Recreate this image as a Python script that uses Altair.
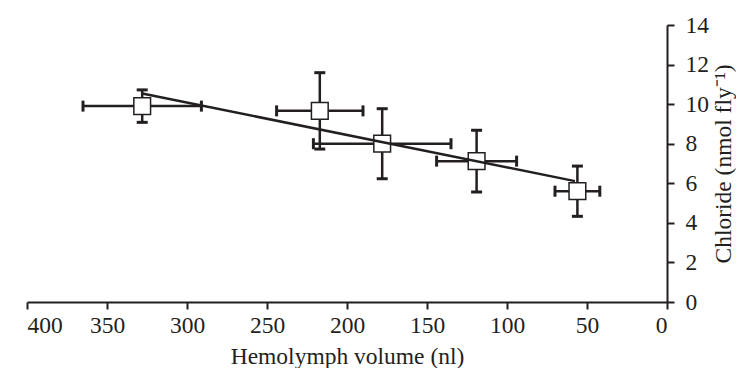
import altair as alt
import pandas as pd

# Data
volume = [328, 217, 178, 119, 56]          # hemolymph volume (nl)
volume_err = [37, 27, 43, 25, 14]          # +/- error (nl)
chloride = [9.9, 9.66, 8.0, 7.12, 5.6]     # chloride (nmol fly-1)
chloride_err = [0.82, 1.93, 1.77, 1.56, 1.27]

fit_x = [328, 57.5]
fit_y = [10.54, 6.11]

x_ticks = [0, 50, 100, 150, 200, 250, 300, 350, 400]
y_ticks = [0, 2, 4, 6, 8, 10, 12, 14]

df = pd.DataFrame({
    "vol": volume,
    "vol_lo": [v - e for v, e in zip(volume, volume_err)],
    "vol_hi": [v + e for v, e in zip(volume, volume_err)],
    "cl": chloride,
    "cl_lo": [c - e for c, e in zip(chloride, chloride_err)],
    "cl_hi": [c + e for c, e in zip(chloride, chloride_err)],
})
fit = pd.DataFrame({"vol": fit_x, "cl": fit_y})

INK = "#231f20"
FONT = "'Liberation Serif', 'Times New Roman', Times, serif"
FS = 23.5

xscale = alt.Scale(domain=[0, 400], reverse=True, nice=False)
yscale = alt.Scale(domain=[0, 14], nice=False)

xaxis = alt.Axis(values=x_ticks, title="Hemolymph volume (nl)", orient="bottom",
                 labelOverlap=False, titlePadding=8)
yaxis = alt.Axis(values=y_ticks, title="Chloride (nmol fly\u207b\u00b9)", orient="right",
                 titleAngle=270, labelOverlap=False, labelPadding=11, titlePadding=27)


def X(field):
    return alt.X(field, type="quantitative", scale=xscale, axis=xaxis, title="Hemolymph volume (nl)")


def Y(field):
    return alt.Y(field, type="quantitative", scale=yscale, axis=yaxis, title="Chloride (nmol fly\u207b\u00b9)")


base = alt.Chart(df)

hbar = base.mark_rule(color=INK, strokeWidth=2.5).encode(
    x=X("vol_lo"), x2="vol_hi:Q", y=Y("cl"))
vbar = base.mark_rule(color=INK, strokeWidth=2.5).encode(
    x=X("vol"), y=Y("cl_lo"), y2="cl_hi:Q")

tick_kw = dict(color=INK, size=11, thickness=3, opacity=1)
cap_l = base.mark_tick(orient="vertical", **tick_kw).encode(x=X("vol_lo"), y=Y("cl"))
cap_r = base.mark_tick(orient="vertical", **tick_kw).encode(x=X("vol_hi"), y=Y("cl"))
cap_b = base.mark_tick(orient="horizontal", **tick_kw).encode(x=X("vol"), y=Y("cl_lo"))
cap_t = base.mark_tick(orient="horizontal", **tick_kw).encode(x=X("vol"), y=Y("cl_hi"))

squares = base.mark_square(fill="white", stroke=INK, strokeWidth=1.5, opacity=1,
                           size=280).encode(x=X("vol"), y=Y("cl"))

line = alt.Chart(fit).mark_line(color=INK, strokeWidth=2.5).encode(x=X("vol"), y=Y("cl"))

chart = alt.layer(hbar, vbar, cap_l, cap_r, cap_b, cap_t, squares, line).properties(
    width=640, height=277,
    autosize=alt.AutoSizeParams(type="none"),
    padding={"left": 19, "top": 17, "right": 69, "bottom": 66},
).configure_view(stroke=None).configure_axis(
    grid=False,
    domainColor=INK, domainWidth=2,
    tickColor=INK, tickWidth=2, tickSize=7,
    labelFont=FONT, labelFontSize=FS, labelColor=INK, labelOverlap=False,
    titleFont=FONT, titleFontSize=FS, titleColor=INK, titleFontWeight="normal",
    labelPadding=4,
)

chart.save("out.html", embed_options={"renderer": "svg", "actions": False})
